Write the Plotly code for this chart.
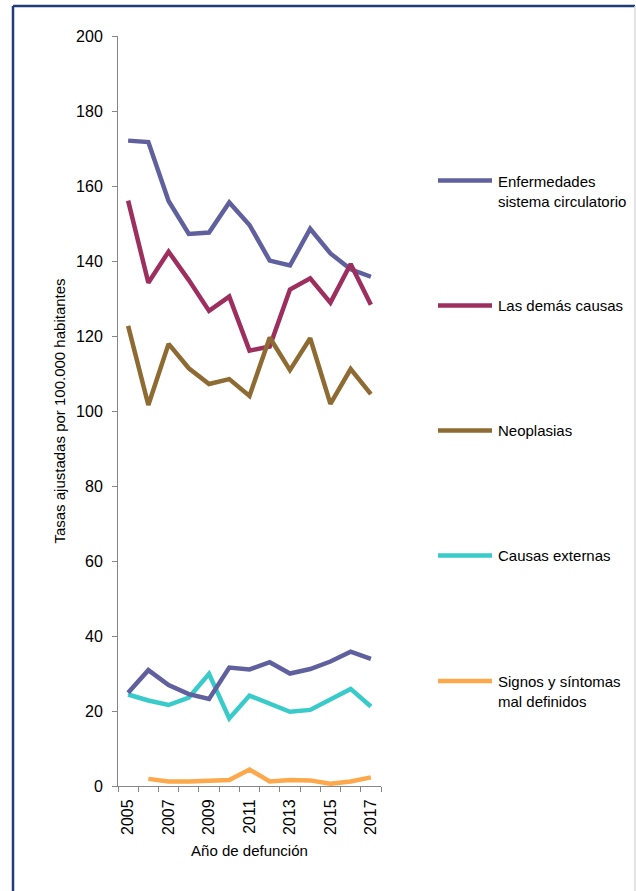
import plotly.graph_objects as go

# Years of death
years = list(range(2005, 2018))

# Age-adjusted rates per 100,000 inhabitants
circulatorio = [172.1, 171.7, 156.0, 147.2, 147.6, 155.6, 149.6, 140.1, 138.8, 148.6, 142.0, 137.8, 135.8]
demas_causas = [156.1, 134.2, 142.5, 134.9, 126.7, 130.5, 116.1, 117.2, 132.4, 135.4, 128.9, 139.2, 128.3]
neoplasias = [122.7, 101.6, 117.9, 111.4, 107.2, 108.5, 104.0, 119.6, 110.9, 119.4, 101.9, 111.2, 104.5]
circulatorio_bajo = [24.9, 30.9, 26.9, 24.5, 23.2, 31.6, 31.1, 33.0, 30.0, 31.2, 33.2, 35.8, 33.9]
externas = [24.4, 22.8, 21.6, 23.6, 29.9, 18.0, 24.1, 22.0, 19.8, 20.3, 23.2, 25.9, 21.2]
signos = [None, 1.9, 1.2, 1.2, 1.4, 1.6, 4.4, 1.2, 1.6, 1.5, 0.6, 1.2, 2.3]

labels = ["Enfermedades<br>sistema circulatorio", "Las demás causas", "Neoplasias",
          "Causas externas", "Signos y síntomas<br>mal definidos"]
colors = ["#5f609d", "#9d2f5f", "#8e6b33", "#38cbc9", "#fca84b"]
year_ticks = [2005, 2007, 2009, 2011, 2013, 2015, 2017]

FONT = "Liberation Sans Narrow, Arial Narrow, Liberation Sans, Arial, sans-serif"
W, H = 636, 891
ML, MR, MT, MB = 118, 255, 36, 105
PW, PH = W - ML - MR, H - MT - MB


def px_to_paper(px, py):
    return (px - ML) / PW, (H - MB - py) / PH


fig = go.Figure()
series = [circulatorio, demas_causas, neoplasias, externas, signos]
for vals, name, col in zip(series, labels, colors):
    fig.add_trace(go.Scatter(x=years, y=vals, mode="lines", name=name,
                             line=dict(color=col, width=4.5), showlegend=False))
fig.add_trace(go.Scatter(x=years, y=circulatorio_bajo, mode="lines",
                         line=dict(color=colors[0], width=4.5), showlegend=False))

# Legend drawn beside the plot: sample line + label
legend_rows = [180.5, 305.5, 430.5, 555.5, 681]
shapes = []
annotations = []
for py, name, col in zip(legend_rows, labels, colors):
    x0, y0 = px_to_paper(438, py)
    x1, _ = px_to_paper(492, py)
    shapes.append(dict(type="line", xref="paper", yref="paper", x0=x0, x1=x1, y0=y0, y1=y0,
                       line=dict(color=col, width=4.5)))
    tx, _ = px_to_paper(496, py)
    if "<br>" in name:
        _, ty = px_to_paper(496, py - 10)
        annotations.append(dict(xref="paper", yref="paper", x=tx, y=ty, text=name,
                                showarrow=False, xanchor="left", yanchor="top", align="left",
                                font=dict(family=FONT, size=15, color="#000")))
    else:
        annotations.append(dict(xref="paper", yref="paper", x=tx, y=y0, text=name,
                                showarrow=False, xanchor="left", yanchor="middle", align="left",
                                font=dict(family=FONT, size=15, color="#000")))

# Outer frame
lx, ty = px_to_paper(13, 6)
rx, by = px_to_paper(635, 900)
shapes.append(dict(type="line", xref="paper", yref="paper", x0=lx, x1=lx, y0=by, y1=ty,
                   line=dict(color="#1f3d7d", width=2.5)))
shapes.append(dict(type="line", xref="paper", yref="paper", x0=lx, x1=rx, y0=ty, y1=ty,
                   line=dict(color="#1f3d7d", width=2.5)))
shapes.append(dict(type="line", xref="paper", yref="paper", x0=rx, x1=rx, y0=by, y1=ty,
                   line=dict(color="#d9d9d9", width=1.5)))

fig.update_layout(
    width=W, height=H,
    margin=dict(l=ML, r=MR, t=MT, b=MB, pad=0),
    paper_bgcolor="white", plot_bgcolor="white",
    font=dict(family=FONT, size=15, color="#000"),
    shapes=shapes, annotations=annotations,
    xaxis=dict(
        range=[2004.5, 2017.5], tickmode="array", tickvals=year_ticks,
        ticktext=[str(y) for y in year_ticks], tickangle=-90,
        ticks="outside", ticklen=6, tickcolor="rgba(0,0,0,0)",
        minor=dict(tickmode="array", tickvals=[y - 0.5 for y in years] + [2017.5],
                   ticks="outside", ticklen=5, tickcolor="#868686", showgrid=False),
        showline=True, linecolor="#868686", linewidth=1, showgrid=False, zeroline=False,
        tickfont=dict(family=FONT, size=16),
        title=dict(text="Año de defunción", font=dict(family=FONT, size=15), standoff=11),
    ),
    yaxis=dict(
        range=[0, 200], dtick=20, ticks="outside", ticklen=5, tickcolor="#868686",
        showline=True, linecolor="#868686", linewidth=1, showgrid=False, zeroline=False,
        tickfont=dict(family=FONT, size=16), ticklabelstandoff=6,
        title=dict(text="Tasas ajustadas por 100.000 habitantes",
                   font=dict(family=FONT, size=15), standoff=6),
    ),
)

fig.write_html("out.html")
